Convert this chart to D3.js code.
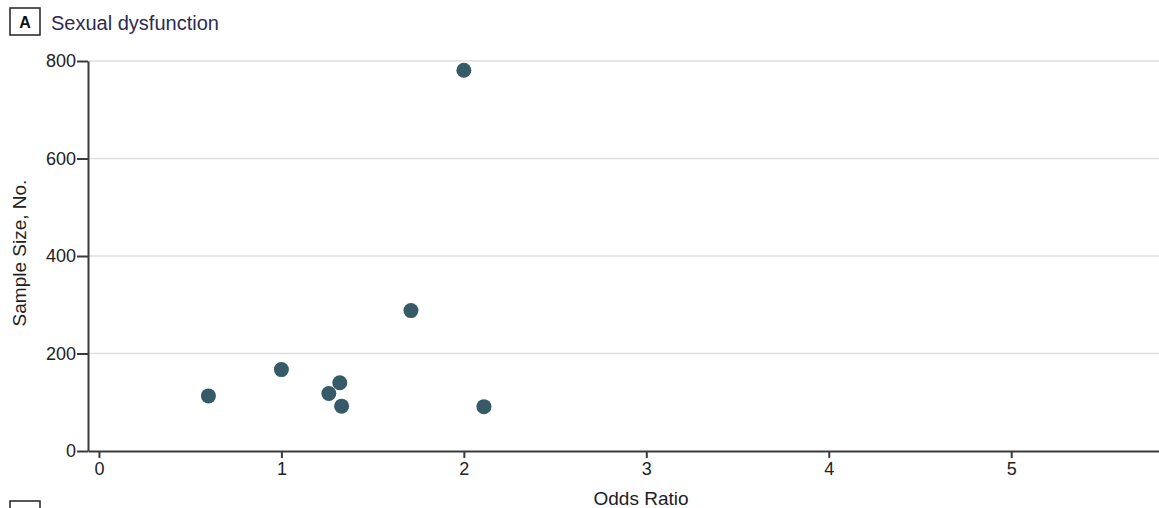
<!DOCTYPE html>
<html><head><meta charset="utf-8">
<script src="https://cdn.jsdelivr.net/npm/d3@7"></script>
<style>
html,body{margin:0;padding:0;background:#fff;}
svg{display:block;font-family:"Liberation Sans",Arial,sans-serif;}
</style></head>
<body>
<script>
const panelLabel = "A";
const panelTitle = "Sexual dysfunction";
const xTitle = "Odds Ratio";
const yTitle = "Sample Size, No.";
const xTicks = [0, 1, 2, 3, 4, 5];
const yTicks = [0, 200, 400, 600, 800];
const oddsRatio = [0.60, 1.00, 1.26, 1.32, 1.33, 1.71, 2.00, 2.11];
const sampleSize = [113, 167, 118, 140, 92, 288, 781, 91];

const W = 1159, H = 508;
const svg = d3.select("body").append("svg").attr("width", W).attr("height", H);

const x = d3.scaleLinear().domain([-0.06, 5.81]).range([88, 1159]);
const y = d3.scaleLinear().domain([0, 800]).range([451, 61]);
const textCol = "#222";

// gridlines
svg.append("g").selectAll("line").data(yTicks.filter(d => d > 0)).join("line")
  .attr("x1", 88).attr("x2", W).attr("y1", d => y(d)).attr("y2", d => y(d))
  .attr("stroke", "#dedede").attr("stroke-width", 1.5);

// y axis
const gy = svg.append("g").attr("transform", "translate(88,0)")
  .call(d3.axisLeft(y).tickValues(yTicks).tickFormat(d3.format("d")).tickSize(11).tickPadding(1).tickSizeOuter(0));
gy.select(".domain").attr("stroke", "#3a3a3a").attr("stroke-width", 2);
gy.selectAll(".tick line").attr("stroke", "#3a3a3a").attr("stroke-width", 2);
gy.selectAll(".tick text").attr("fill", textCol).attr("font-size", 18)
  .attr("font-family", "Liberation Sans, sans-serif");

// x axis
const gx = svg.append("g").attr("transform", "translate(0,451)")
  .call(d3.axisBottom(x).tickValues(xTicks).tickFormat(d3.format("d")).tickSize(7).tickPadding(4).tickSizeOuter(0));
gx.select(".domain").attr("stroke", "#3a3a3a").attr("stroke-width", 2);
gx.selectAll(".tick line").attr("stroke", "#3a3a3a").attr("stroke-width", 2);
gx.selectAll(".tick text").attr("fill", textCol).attr("font-size", 18)
  .attr("font-family", "Liberation Sans, sans-serif");

// axis titles
svg.append("text").attr("x", 641).attr("y", 505).attr("text-anchor", "middle")
  .attr("font-size", 19).attr("fill", textCol).text(xTitle);
svg.append("text").attr("transform", "translate(26,253) rotate(-90)").attr("text-anchor", "middle")
  .attr("font-size", 19).attr("fill", textCol).text(yTitle);

// points
svg.append("g").selectAll("circle").data(oddsRatio.map((d, i) => ({or: d, n: sampleSize[i]}))).join("circle")
  .attr("cx", d => x(d.or)).attr("cy", d => y(d.n)).attr("r", 7.5)
  .attr("fill", "#365a67");

// panel label
svg.append("rect").attr("x", 10).attr("y", 8).attr("width", 30).attr("height", 27)
  .attr("fill", "none").attr("stroke", "#222").attr("stroke-width", 1.5);
svg.append("text").attr("x", 25).attr("y", 28).attr("text-anchor", "middle")
  .attr("font-size", 16).attr("font-weight", "bold").attr("fill", "#111").text(panelLabel);
svg.append("text").attr("x", 51).attr("y", 30).attr("font-size", 20).attr("fill", "#2b2b55").text(panelTitle);

// next panel box (cut off at bottom)
svg.append("rect").attr("x", 10).attr("y", 501).attr("width", 30).attr("height", 27)
  .attr("fill", "none").attr("stroke", "#222").attr("stroke-width", 1.5);
</script>
</body></html>
